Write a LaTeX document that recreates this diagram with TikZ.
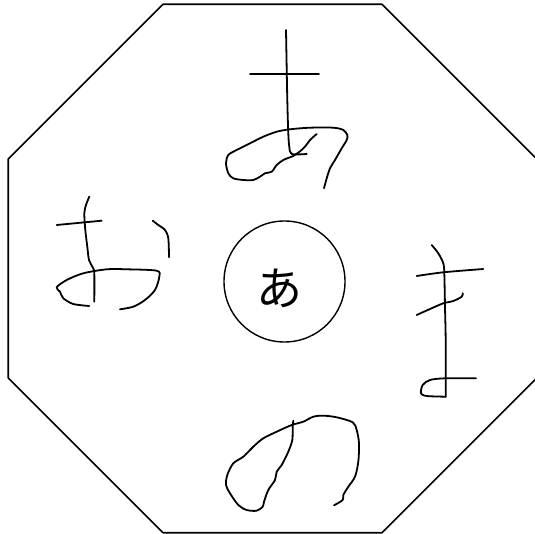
\documentclass[tikz,border=0pt]{standalone}
\usepackage{fontspec}
\newfontfamily\jpfont{Noto Sans CJK JP}

\begin{document}
\begin{tikzpicture}[x=1pt, y=-1pt, line cap=round, line join=round,
    edge/.style={line width=1.6pt, black},
    stroke/.style={line width=1.8pt, black},
    hand/.style={stroke, smooth, tension=0.5}]
  \def\R{286} \def\cx{272.5} \def\cy{268.5}
  \useasboundingbox (0,0) rectangle (535,534);
  % octogono regular, lado superior plano
  \draw[edge, shift={(\cx,\cy)}] (22.5:\R)
    \foreach \a in {67.5,112.5,...,337.5} { -- (\a:\R) } -- cycle;
  % circulo central con el kana
  \node[draw, circle, line width=1.4pt, minimum size=121pt, inner sep=0pt] (hub) at (284.5,281.5) {};
  \node[font=\jpfont\fontsize{46}{46}\selectfont, inner sep=0pt] (kana) at (279,288) {あ};
  % trazos a mano: arriba (a)
  \draw[stroke] (250,74) -- (319,74);
  \draw[hand] plot coordinates {(286,30) (287.3,100) (288.3,133.3) (289.3,146.7) (291.7,154) (306.7,154)};
  \draw[hand] plot coordinates {(316.7,134) (310,140) (305,146.7) (298.3,152.7) (293.3,156)
    (283.3,160) (276.7,165) (271.7,171.7) (265,173.3) (260,176.7) (253.3,180) (243.3,180)
    (233.3,178.3) (228.3,173.3) (226,163.3) (228.3,155) (236.7,150) (250,143.3) (263.3,136.7)
    (276.7,131.7) (290,129.3) (310,127.7) (333.3,127.7) (343.3,130) (347.3,135) (346.7,140)
    (341.7,148.3) (335,160) (330,168.3) (326.7,178.3) (324,188.3)};
  % izquierda (o)
  \draw[stroke] (56.7,225) -- (101.7,220.7);
  \draw[hand] plot coordinates {(89.3,196.7) (86,205) (84.3,213.3) (85.3,230) (87.3,246.7)
    (89,260) (92.7,267.3) (94.3,273.3) (94.3,301.7)};
  \draw[hand] plot coordinates {(89.3,306) (73.3,304) (63.3,298.3) (60,291.7) (56.7,287.3)
    (66.7,280) (83.3,273.3) (106.7,269.3) (126.7,269.3) (156.7,270.7) (159.3,276.7) (155,290)
    (145,300) (133.3,306.7) (120,309.3)};
  \draw[hand] plot coordinates {(152.7,220.7) (158.3,225) (165,230) (168.3,238.3) (169,257.3)};
  % derecha (ki)
  \draw[hand] plot coordinates {(431.7,245) (438.3,253.3) (443.3,263.3) (444.3,273.3)
    (445,306.7) (445.7,340) (445.7,373.3) (445.7,396.7)};
  \draw[hand] plot coordinates {(416.7,276) (443.3,272.3) (483.3,269)};
  \draw[hand] plot coordinates {(416.7,315) (430,309) (443.3,303.3) (453.3,301) (461.7,296.7) (462.7,293.3)};
  \draw[hand] plot coordinates {(476,378.3) (445,378.3) (430,380) (422.7,385) (421,393.3) (426.7,396) (445.7,396.7)};
  % abajo (no)
  \draw[hand] plot coordinates {(293.3,420.7) (292.7,426.7) (292.3,440) (288.3,451.7) (281.7,465)
    (276.7,471.7) (275,480) (268.3,490) (264,501.7) (262.7,506.7) (256.7,510.7) (246.7,510)
    (238.3,505) (230,493.3) (226,485) (227.3,475) (233.3,463.3) (243.3,456.7) (253.3,446.7)
    (263.3,438.3) (276.7,431.7) (291.7,425) (303.3,421.7) (313.3,416.7) (323.3,415.7)
    (336.7,417.3) (352.7,422.3) (356.7,430) (359,443.3) (358.3,461.7) (355,476.7) (348.3,486.7)
    (343.3,495) (342.7,500) (334,505.3)};
\end{tikzpicture}
\end{document}
